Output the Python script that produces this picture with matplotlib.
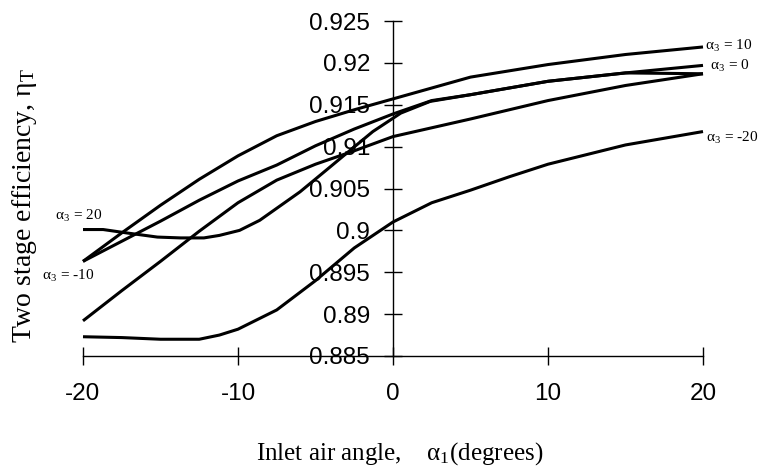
import matplotlib
matplotlib.use("Agg")
import matplotlib.pyplot as plt

# values (efficiency vs inlet air angle)
x_a10 = [-20, -17.5, -15, -12.5, -10, -7.5, -5, -2.5, 0, 5, 10, 15, 20]
eta_a10 = [0.8963, 0.8997, 0.9030, 0.9061, 0.9089, 0.9113, 0.9130, 0.9144, 0.9157, 0.9183, 0.9198, 0.9210, 0.9219]

x_a0 = [-20, -17.5, -15, -12.5, -10, -7.5, -5, -2.5, 0, 2.5, 5, 10, 15, 20]
eta_a0 = [0.8963, 0.8987, 0.9011, 0.9036, 0.9059, 0.9078, 0.9101, 0.9121, 0.9139, 0.9155, 0.9162, 0.9178, 0.9188, 0.9197]

x_am10 = [-20, -17.5, -15, -12.5, -10, -7.5, -5, -2.5, 0, 5, 10, 15, 20]
eta_am10 = [0.8892, 0.8928, 0.8963, 0.8999, 0.9033, 0.9060, 0.9079, 0.9095, 0.9112, 0.9133, 0.9155, 0.9173, 0.9187]

x_a20 = [-20, -18.7, -17.2, -15.2, -13.7, -12.2, -11.2, -9.9, -8.6, -6, -4.3, -3, -1.3, 0.5, 2.4, 5, 10, 15, 20]
eta_a20 = [0.9001, 0.9001, 0.8997, 0.8992, 0.8991, 0.8991, 0.8994, 0.9000, 0.9012, 0.9046, 0.9072, 0.9092, 0.9118,
           0.9140, 0.9154, 0.9162, 0.9178, 0.9188, 0.9187]

x_am20 = [-20, -17.5, -15, -12.5, -11.2, -10, -7.5, -5, -2.5, 0, 2.5, 5, 7.5, 10, 15, 20]
eta_am20 = [0.8873, 0.8872, 0.8870, 0.8870, 0.8875, 0.8882, 0.8905, 0.8940, 0.8979, 0.9010, 0.9033, 0.9048, 0.9064,
            0.9079, 0.9102, 0.9118]

x_ticks = [-20, -10, 0, 10, 20]
y_ticks = [0.885, 0.89, 0.895, 0.9, 0.905, 0.91, 0.915, 0.92, 0.925]
y_ticklabels = ["0.885", "0.89", "0.895", "0.9", "0.905", "0.91", "0.915", "0.92", "0.925"]

plt.rcParams["mathtext.fontset"] = "stix"
plt.rcParams["axes.unicode_minus"] = False

fig = plt.figure(figsize=(7.59, 4.71), dpi=100)
ax = fig.add_axes([83 / 759, 115 / 471, 620 / 759, 335 / 471])

lw = 2.2
series = [
    (x_a10, eta_a10), (x_a0, eta_a0), (x_am10, eta_am10),
    (x_a20, eta_a20), (x_am20, eta_am20),
]
for xs, ys in series:
    ax.plot(xs, ys, color="black", lw=lw, clip_on=False, solid_capstyle="butt")

ax.set_xlim(-20, 20)
ax.set_ylim(0.885, 0.925)

for s in ["top", "right"]:
    ax.spines[s].set_visible(False)
ax.spines["left"].set_position(("data", 0))
ax.spines["left"].set_linewidth(1.0)
ax.spines["bottom"].set_linewidth(1.0)

ax.set_xticks(x_ticks)
ax.set_yticks(y_ticks)
ax.set_yticklabels(y_ticklabels)
ax.tick_params(axis="both", direction="inout", length=13, width=1.0, color="black",
               labelsize=17.5)
ax.tick_params(axis="y", pad=10)
ax.tick_params(axis="x", pad=13)
for lab in ax.get_xticklabels() + ax.get_yticklabels():
    lab.set_family("Liberation Sans")

ax.set_xlabel("Inlet air angle,    α$_\\mathregular{1}$(degrees)", family="Liberation Serif", fontsize=18)
ax.xaxis.set_label_coords(0.51, -0.25)
fig.text(25 / 759, 1 - 205 / 471, "Two stage efficiency, η$_\\mathregular{T}$",
         rotation=90, ha="center", va="center", family="Liberation Serif", fontsize=20)

lab_kw = dict(textcoords="offset points", family="Liberation Serif", fontsize=11, va="center",
              annotation_clip=False)
ax.annotate("α$_\\mathregular{3}$ = 10", (x_a10[-1], eta_a10[-1]), xytext=(1.5, 1), ha="left", **lab_kw)
ax.annotate("α$_\\mathregular{3}$ = 0", (x_a0[-1], eta_a0[-1]), xytext=(5, -0.5), ha="left", **lab_kw)
ax.annotate("α$_\\mathregular{3}$ = -20", (x_am20[-1], eta_am20[-1]), xytext=(2, -4.5), ha="left", **lab_kw)
ax.annotate("α$_\\mathregular{3}$ = 20", (x_a20[0], eta_a20[0]), xytext=(-3.5, 10), ha="center", **lab_kw)
ax.annotate("α$_\\mathregular{3}$ = -10", (x_a10[0], eta_a10[0]), xytext=(-11, -10.5), ha="center", **lab_kw)

fig.savefig("out.png", dpi=100)
